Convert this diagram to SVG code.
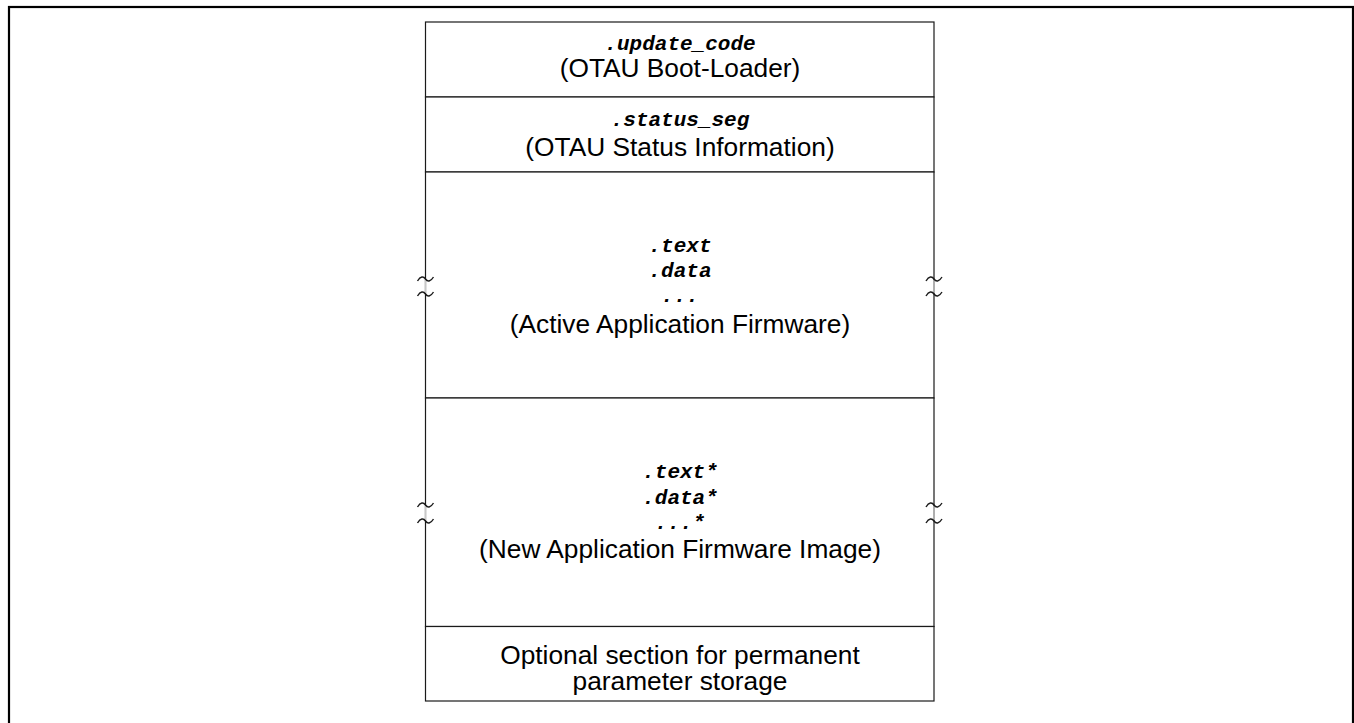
<svg xmlns="http://www.w3.org/2000/svg" width="1354" height="723" viewBox="0 0 1354 723">
  <style>
    .frame { fill: none; stroke: #000; stroke-width: 2.2; }
    .box { fill: #fff; stroke: #1a1a1a; stroke-width: 1.2; }
    .sec { font-family: "Liberation Mono", "Courier New", monospace; font-weight: bold; font-style: italic; font-size: 21px; fill: #000; text-anchor: middle; }
    .lbl { font-family: "Liberation Sans", Arial, sans-serif; font-size: 26.3px; fill: #000; text-anchor: middle; }
    .gap { stroke: #c8c8c8; stroke-width: 1.4; }
    .tilde { fill: none; stroke: #1a1a1a; stroke-width: 1.4; }
  </style>
  <defs>
    <path id="wave" class="tilde" d="M-8,2 C-5,-3 -2,-3 0,0 S5,3 8,-2"/>
  </defs>

  <rect width="1354" height="723" fill="#fff"/>
  <rect class="frame" x="9" y="7" width="1344" height="800"/>

  <!-- memory segments, top to bottom -->
  <g id="update_code">
    <rect class="box" x="425.5" y="22" width="508.5" height="75"/>
    <text class="sec" x="680" y="50">.update_code</text>
    <text class="lbl" x="680" y="77">(OTAU Boot-Loader)</text>
  </g>

  <g id="status_seg">
    <rect class="box" x="425.5" y="97" width="508.5" height="75"/>
    <text class="sec" x="680" y="126">.status_seg</text>
    <text class="lbl" x="680" y="156">(OTAU Status Information)</text>
  </g>

  <g id="active_firmware">
    <rect class="box" x="425.5" y="172" width="508.5" height="226"/>
    <text class="sec" x="680" y="252">.text</text>
    <text class="sec" x="680" y="277">.data</text>
    <text class="sec" x="680" y="302">...</text>
    <text class="lbl" x="680" y="333">(Active Application Firmware)</text>
  </g>

  <g id="new_firmware">
    <rect class="box" x="425.5" y="398" width="508.5" height="228.5"/>
    <text class="sec" x="680" y="478">.text*</text>
    <text class="sec" x="680" y="504">.data*</text>
    <text class="sec" x="680" y="529">...*</text>
    <text class="lbl" x="680" y="558">(New Application Firmware Image)</text>
  </g>

  <g id="param_storage">
    <rect class="box" x="425.5" y="626.5" width="508.5" height="74.5"/>
    <text class="lbl" x="680" y="664">Optional section for permanent</text>
    <text class="lbl" x="680" y="690">parameter storage</text>
  </g>

  <!-- break marks on the variable-size segments -->
  <g id="breaks">
    <line class="gap" x1="425.5" y1="280" x2="425.5" y2="293"/>
    <line class="gap" x1="934" y1="280" x2="934" y2="293"/>
    <line class="gap" x1="425.5" y1="506" x2="425.5" y2="520"/>
    <line class="gap" x1="934" y1="506" x2="934" y2="520"/>
    <use href="#wave" x="425.5" y="279"/>
    <use href="#wave" x="425.5" y="294"/>
    <use href="#wave" x="934" y="279"/>
    <use href="#wave" x="934" y="294"/>
    <use href="#wave" x="425.5" y="505"/>
    <use href="#wave" x="425.5" y="521"/>
    <use href="#wave" x="934" y="505"/>
    <use href="#wave" x="934" y="521"/>
  </g>
</svg>
